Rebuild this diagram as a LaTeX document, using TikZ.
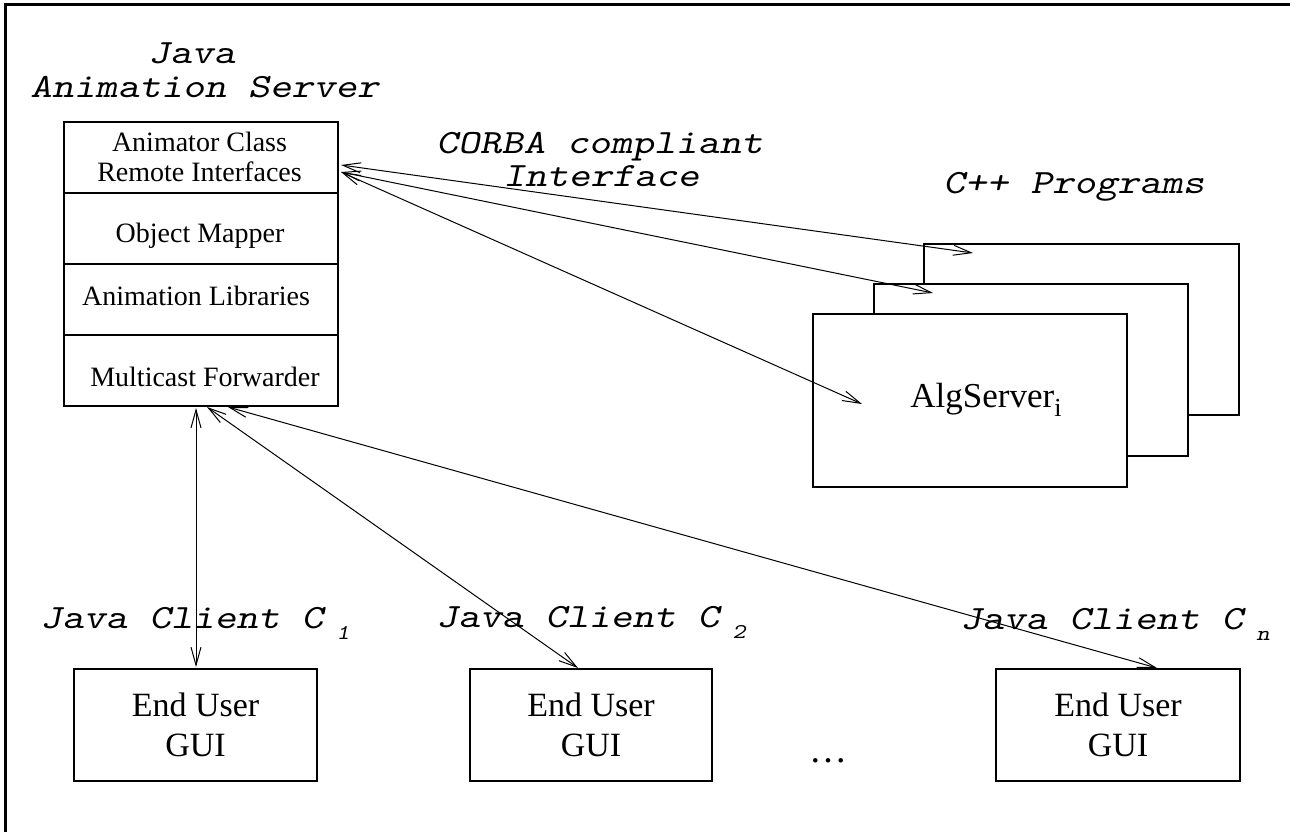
\documentclass[tikz,border=0pt]{standalone}
\usepackage{fontspec}
\setmainfont{Liberation Serif}
\usetikzlibrary{arrows.meta}
\newcommand\lblfont{\fontsize{17}{20}\selectfont\ttfamily\slshape}
\newcommand\subfnt{\fontsize{10.5}{11}\selectfont\ttfamily\slshape}
\newcommand\cour[1]{\scalebox{1.22}[1]{#1}}
\newcommand\stackfont{\fontsize{14}{15}\selectfont\rmfamily}
\newcommand\guifont{\fontsize{17}{20}\selectfont\rmfamily}
\newcommand\algfont{\fontsize{17.5}{20}\selectfont\rmfamily}
\begin{document}
\begin{tikzpicture}[x=0.5pt,y=-0.5pt,
  box/.style={draw, line width=0.55pt, inner sep=0pt},
  lbl/.style={font=\lblfont, inner sep=0pt, anchor=base west},
  stk/.style={font=\stackfont, inner sep=0pt, anchor=base},
  guibox/.style={box, minimum height=56pt, align=center, font=\guifont},
  link/.style={line width=0.5pt, {Straight Barb[length=9pt,width=5pt]}-{Straight Barb[length=9pt,width=5pt]}},
]
\useasboundingbox (0,0) rectangle (1290,832);
% frame
\draw[line width=1.5pt] (5,832) -- (5,4) -- (1290,4);

% server stack
\node[box, minimum width=137pt, minimum height=142pt] (stack) at (201,264) {};
\draw[line width=0.55pt] (stack.west |- 0,193) -- (stack.east |- 0,193);
\draw[line width=0.55pt] (stack.west |- 0,264) -- (stack.east |- 0,264);
\draw[line width=0.55pt] (stack.west |- 0,335) -- (stack.east |- 0,335);
\node[stk] (t1) at (199.5,151) {Animator Class};
\node[stk] (t2) at (199.5,181) {Remote Interfaces};
\node[stk] (t3) at (200,242) {Object Mapper};
\node[stk] (t4) at (196,305) {Animation Libraries};
\node[stk] (t5) at (205,386) {Multicast Forwarder};

% labels
\node[lbl] (javaA) at (148,63) {\cour{Java}};
\node[lbl] (javaB) at (30,97) {\cour{Animation Server}};
\node[lbl] (corbaA) at (436,153) {\cour{CORBA compliant}};
\node[lbl] (corbaB) at (503,186) {\cour{Interface}};
\node[lbl] (cpp) at (943,193) {\cour{C++ Programs}};

% C++ program boxes
\node[box, fill=white, minimum width=157.5pt, minimum height=85.5pt] (cpp3) at (1081.5,329.5) {};
\node[box, fill=white, minimum width=157pt, minimum height=86pt] (cpp2) at (1031,370) {};
\node[box, fill=white, minimum width=157pt, minimum height=86.5pt] (cpp1) at (970,400.5) {};
\node[font=\algfont, inner sep=0pt, anchor=base west] (alg) at (910,407) {AlgServer\raisebox{-4.5pt}{\fontsize{13}{13}\selectfont i}};

% clients
\node[guibox, minimum width=121.5pt] (gui1) at (195.5,725) {End User\\GUI};
\node[guibox, minimum width=121pt] (gui2) at (591,725) {End User\\GUI};
\node[guibox, minimum width=122pt] (gui3) at (1118,725) {End User\\GUI};
\node[font=\fontsize{19}{20}\selectfont\rmfamily, inner sep=0pt, anchor=base] (dots) at (828,762) {…};

\node[lbl] (c1) at (40,628) {\cour{Java Client C\hspace{5.3pt}\raisebox{-5.5pt}{\subfnt 1}}};
\node[lbl] (c2) at (436,627) {\cour{Java Client C\hspace{5.3pt}\raisebox{-5.5pt}{\subfnt 2}}};
\node[lbl] (cn) at (960,629) {\cour{Java Client C\hspace{5.3pt}\raisebox{-5.5pt}{\subfnt n}}};

% connector end points
\coordinate (s1) at (341,165);
\coordinate (s2) at (341,172);
\coordinate (e1) at (973,253);
\coordinate (e2) at (933,293);
\coordinate (e3) at (862,404);
\coordinate (b0) at (196,408);
\coordinate (b1) at (207,407);
\coordinate (b2) at (228,407);
\coordinate (g1) at (196,667);
\coordinate (g2) at (578,668);
\coordinate (g3) at (1157,668);

\draw[link] (s1) -- (e1);
\draw[link] (s2) -- (e2);
\draw[link] (s2) -- (e3);
\draw[link] (b0) -- (g1);
\draw[link] (b1) -- (g2);
\draw[link] (b2) -- (g3);
\end{tikzpicture}
\end{document}
